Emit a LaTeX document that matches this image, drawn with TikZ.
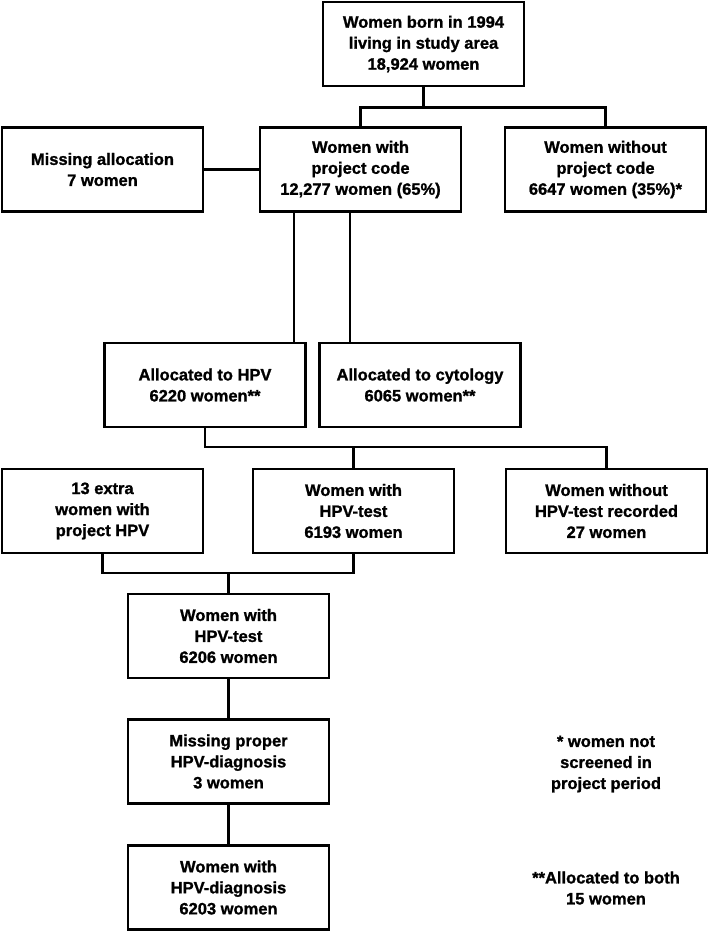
\documentclass[tikz,border=0pt]{standalone}
\usepackage{fontspec}
\setmainfont{Liberation Sans}[BoldFeatures={FakeBold=1.2}]
\begin{document}
\begin{tikzpicture}[x=1pt,y=-1pt,
  box/.style={draw,line width=2.2pt,minimum width=201pt,minimum height=84pt,inner sep=0pt,align=center,font=\fontsize{16.5}{21}\selectfont\bfseries},
  note/.style={align=center,inner sep=0pt,font=\fontsize{16.5}{21}\selectfont\bfseries},
  conn/.style={line width=2.2pt}]
\useasboundingbox (0,0) rectangle (709,932);
\node[box] (top) at (423.5,44) {Women born in 1994\\living in study area\\18,924 women};
\node[box] (missalloc) at (102.5,169.5) {Missing allocation\\7 women};
\node[box] (withcode) at (360.5,169.5) {Women with\\project code\\12,277 women (65\%)};
\node[box] (without) at (605.5,169.5) {Women without\\project code\\6647 women (35\%)*};
\node[box] (hpv) at (205,385) {Allocated to HPV\\6220 women**};
\node[box] (cyto) at (420,385) {Allocated to cytology\\6065 women**};
\node[box] (extra) at (102.5,511) {13 extra\\women with\\project HPV};
\node[box] (withtest) at (353.5,511) {Women with\\HPV-test\\6193 women};
\node[box] (wotest) at (606.5,511) {Women without\\HPV-test recorded\\27 women};
\node[box] (test6206) at (228.5,636) {Women with\\HPV-test\\6206 women};
\node[box] (missdiag) at (228.5,761.5) {Missing proper\\HPV-diagnosis\\3 women};
\node[box] (diag) at (228.5,887.5) {Women with\\HPV-diagnosis\\6203 women};
\node[note] (note1) at (606,764) {* women not\\screened in\\project period};
\node[note] (note2) at (606,888) {**Allocated to both\\15 women};
\coordinate (j1) at (423.5,107.5);
\coordinate (j2) at (205,447);
\coordinate (j3) at (228.5,573);
\draw[conn] (top.south) -- (j1);
\draw[conn] (withcode.north) |- (j1) -| (without.north);
\draw[conn] (missalloc.east) -- (withcode.west);
\draw[conn] ([xshift=-66.5pt]withcode.south) -- ([xshift=-66.5pt]withcode.south |- hpv.north);
\draw[conn] ([xshift=-10.5pt]withcode.south) -- ([xshift=-10.5pt]withcode.south |- cyto.north);
\draw[conn] (hpv.south) -- (j2) -| (wotest.north);
\draw[conn] (withtest.north) -- (withtest.north |- j2);
\draw[conn] (extra.south) |- (withtest.south |- j3) -- (withtest.south);
\draw[conn] (j3) -- (test6206.north);
\draw[conn] (test6206.south) -- (missdiag.north);
\draw[conn] (missdiag.south) -- (diag.north);
\end{tikzpicture}
\end{document}
